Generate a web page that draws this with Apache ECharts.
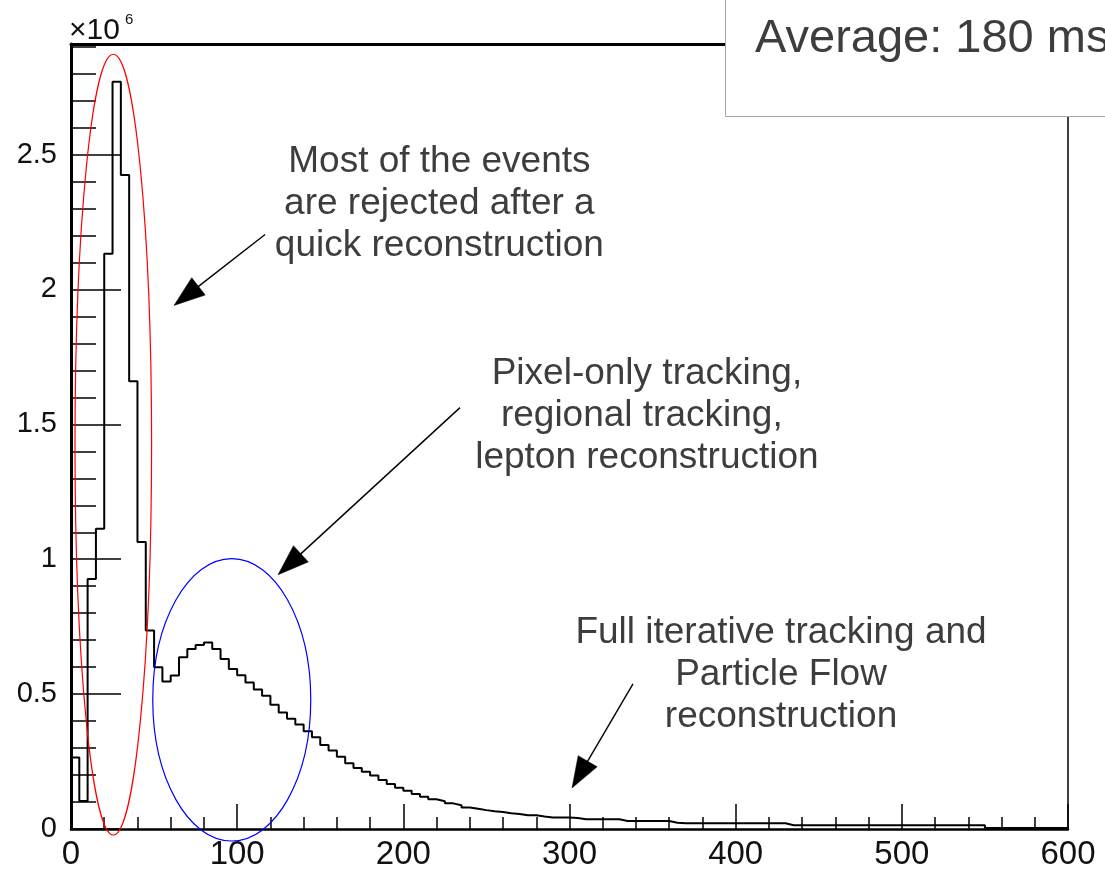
<!DOCTYPE html>
<html>
<head>
<meta charset="utf-8">
<title>Event processing time</title>
<script src="https://cdn.jsdelivr.net/npm/echarts@6/dist/echarts.min.js"></script>
<style>
  html, body { margin: 0; padding: 0; background: #ffffff; }
  #chart { width: 1105px; height: 869px; }
</style>
</head>
<body>
<div id="chart"></div>
<script>
// Processing time per event: 5 ms bins from 0 to 600 ms,
// bin contents in units of 10^6 events.
const binWidth = 5;
const eventsE6 = [
  0.265, 0.104, 0.927, 1.113, 2.132, 2.770, 2.424, 1.660, 1.064, 0.736,
  0.600, 0.547, 0.569, 0.637, 0.667, 0.682, 0.691, 0.667, 0.630, 0.593,
  0.570, 0.543, 0.517, 0.494, 0.461, 0.432, 0.409, 0.387, 0.362, 0.340,
  0.311, 0.291, 0.268, 0.244, 0.226, 0.212, 0.198, 0.182, 0.167, 0.153,
  0.142, 0.130, 0.120, 0.110, 0.103, 0.095, 0.088, 0.080, 0.075, 0.070,
  0.066, 0.063, 0.058, 0.056, 0.051, 0.051, 0.046, 0.043, 0.043, 0.043,
  0.041, 0.036, 0.036, 0.036, 0.036, 0.036, 0.030, 0.030, 0.030, 0.030,
  0.030, 0.030, 0.023, 0.021, 0.021, 0.021, 0.021, 0.021, 0.021, 0.021,
  0.021, 0.021, 0.021, 0.021, 0.021, 0.021, 0.014, 0.014, 0.014, 0.014,
  0.014, 0.014, 0.014, 0.014, 0.014, 0.014, 0.014, 0.014, 0.014, 0.014,
  0.014, 0.014, 0.014, 0.014, 0.014, 0.014, 0.014, 0.014, 0.014, 0.014,
  0.004, 0.004, 0.004, 0.004, 0.004, 0.004, 0.004, 0.004, 0.004, 0.004
];

// Axis ranges and tick steps
const xRange = [0, 600];
const xStep = 100;
const yRange = [0, 2.91];
const yStep = 0.5;
const yScaleLabel = ['\u00d710', '6'];

// Texts drawn on the plot
const averageText = 'Average: 180 ms';
const notes = [
  { lines: ['Most of the events', 'are rejected after a', 'quick reconstruction'], at: [221.7, 2.318] },
  { lines: ['Pixel-only tracking,', 'regional tracking, ', 'lepton reconstruction'], at: [346.6, 1.530] },
  { lines: ['Full iterative tracking and', 'Particle Flow', 'reconstruction'], at: [427.3, 0.570] }
];
// Arrows: tail and tip, in axis units
const arrows = [
  { from: [116.8, 2.204], to: [62.0, 1.941] },
  { from: [234.1, 1.562], to: [124.6, 0.9425] },
  { from: [338.2, 0.538], to: [301.5, 0.152] }
];
// Ellipses: bounding boxes [xMin, yMin, xMax, yMax] in axis units
const ellipses = [
  { box: [2.4, -0.0223, 48.5, 2.872], color: '#ff0000' },
  { box: [49.2, -0.0445, 144.3, 1.002], color: '#0000ff' }
];

// Step outline of the histogram: each bin spans [left edge, left edge + binWidth]
const histPoints = [[xRange[0], 0]];
eventsE6.forEach((v, i) => histPoints.push([i * binWidth, v]));
histPoints.push([eventsE6.length * binWidth, eventsE6[eventsE6.length - 1]]);
histPoints.push([eventsE6.length * binWidth, 0]);

const FONT = '"Liberation Sans", Arial, sans-serif';
const TEXT_GREY = '#3d3d3d';

const chart = echarts.init(document.getElementById('chart'), null, { renderer: 'canvas' });

const option = {
  animation: false,
  backgroundColor: '#ffffff',
  grid: { left: 71, right: 37, top: 44, bottom: 40, outerBoundsMode: 'none', containLabel: false },
  xAxis: [
    {
      type: 'value', min: xRange[0], max: xRange[1], interval: xStep,
      axisLine: { show: true, onZero: false, lineStyle: { color: '#000', width: 2.5 } },
      axisTick: { show: true, inside: true, length: 25, lineStyle: { color: '#000', width: 1.5 } },
      minorTick: { show: true, splitNumber: 5, length: 12, lineStyle: { color: '#000', width: 1.5 } },
      axisLabel: { show: true, margin: 9, fontSize: 33, fontFamily: FONT, color: '#111' },
      splitLine: { show: false }, minorSplitLine: { show: false }
    },
    {
      type: 'value', position: 'top', min: xRange[0], max: xRange[1],
      axisLine: { show: true, onZero: false, lineStyle: { color: '#000', width: 3 } },
      axisTick: { show: false }, axisLabel: { show: false }, splitLine: { show: false }
    }
  ],
  yAxis: [
    {
      type: 'value', min: yRange[0], max: yRange[1], interval: yStep,
      axisLine: { show: true, onZero: false, lineStyle: { color: '#000', width: 3 } },
      axisTick: { show: true, inside: true, length: 50, lineStyle: { color: '#000', width: 1.5 } },
      minorTick: { show: true, splitNumber: 5, length: 25, lineStyle: { color: '#000', width: 1.5 } },
      axisLabel: { show: true, margin: 14, fontSize: 29, fontFamily: FONT, color: '#111', showMaxLabel: false },
      splitLine: { show: false }, minorSplitLine: { show: false }
    },
    {
      type: 'value', position: 'right', min: yRange[0], max: yRange[1],
      axisLine: { show: true, onZero: false, lineStyle: { color: '#000', width: 1.5 } },
      axisTick: { show: false }, axisLabel: { show: false }, splitLine: { show: false }
    }
  ],
  series: [
    {
      type: 'line',
      xAxisIndex: 0, yAxisIndex: 0,
      step: 'end',
      data: histPoints,
      showSymbol: false,
      symbol: 'none',
      lineStyle: { color: '#000', width: 2 },
      z: 5
    }
  ]
};

chart.setOption(option);

// Annotations placed through the grid's coordinate system
const toPx = (p) => chart.convertToPixel({ gridIndex: 0 }, p);
const graphics = [];

ellipses.forEach((e) => {
  const a = toPx([e.box[0], e.box[1]]);
  const b = toPx([e.box[2], e.box[3]]);
  graphics.push({
    type: 'ellipse', z: 50,
    shape: { cx: (a[0] + b[0]) / 2, cy: (a[1] + b[1]) / 2, rx: Math.abs(b[0] - a[0]) / 2, ry: Math.abs(b[1] - a[1]) / 2 },
    style: { fill: 'none', stroke: e.color, lineWidth: 1.2 }
  });
});

const HEAD_LEN = 31, HEAD_HALF = 11;
arrows.forEach((ar) => {
  const p0 = toPx(ar.from);
  const p1 = toPx(ar.to);
  const dx = p1[0] - p0[0], dy = p1[1] - p0[1];
  const len = Math.hypot(dx, dy);
  const ux = dx / len, uy = dy / len;
  const bx = p1[0] - ux * HEAD_LEN, by = p1[1] - uy * HEAD_LEN;
  graphics.push({
    type: 'line', z: 50,
    shape: { x1: p0[0], y1: p0[1], x2: bx + ux * 2, y2: by + uy * 2 },
    style: { stroke: '#000', lineWidth: 1.4 }
  });
  graphics.push({
    type: 'polygon', z: 50,
    shape: { points: [[p1[0], p1[1]], [bx - uy * HEAD_HALF, by + ux * HEAD_HALF], [bx + uy * HEAD_HALF, by - ux * HEAD_HALF]] },
    style: { fill: '#000', stroke: '#000', lineWidth: 0.5 }
  });
});

notes.forEach((n) => {
  const c = toPx(n.at);
  graphics.push({
    type: 'text', z: 60, x: c[0], y: c[1],
    style: {
      text: n.lines.join('\n'), fontSize: 37, fontFamily: FONT, fill: TEXT_GREY,
      align: 'center', verticalAlign: 'middle', textAlign: 'center', textVerticalAlign: 'middle', lineHeight: 42
    }
  });
});

// Axis multiplier above the y axis
const corner = toPx([xRange[0], yRange[1]]);
graphics.push({
  type: 'text', z: 60, x: corner[0] - 2, y: corner[1] + 2,
  style: { text: yScaleLabel[0], fontSize: 30, fontFamily: FONT, fill: '#111', align: 'left', verticalAlign: 'bottom', textAlign: 'left', textVerticalAlign: 'bottom' }
});
graphics.push({
  type: 'text', z: 60, x: corner[0] + 54, y: corner[1] - 32,
  style: { text: yScaleLabel[1], fontSize: 15, fontFamily: FONT, fill: '#111', align: 'left', verticalAlign: 'top', textAlign: 'left', textVerticalAlign: 'top' }
});

// Statistics box in the upper right corner
graphics.push({
  type: 'rect', z: 70,
  shape: { x: 725.5, y: -10, width: 420, height: 126.5 },
  style: { fill: '#ffffff', stroke: '#a6a6a6', lineWidth: 1 }
});
graphics.push({
  type: 'text', z: 71, x: 755, y: 39,
  style: { text: averageText, fontSize: 47, fontFamily: FONT, fill: TEXT_GREY, align: 'left', verticalAlign: 'middle', textAlign: 'left', textVerticalAlign: 'middle' }
});

chart.setOption({ graphic: { elements: graphics } });
</script>
</body>
</html>
